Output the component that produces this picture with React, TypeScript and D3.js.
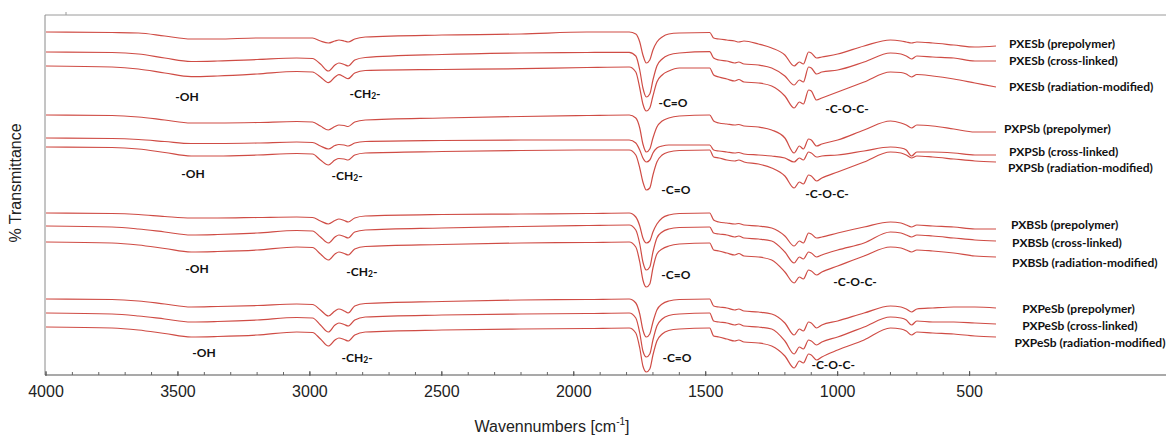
import React from "react";
import * as d3 from "d3";

// Sampling grid of the FTIR spectra (cm^-1, descending)
const WAVENUMBERS = [
  4000, 3750, 3650, 3550, 3450, 3350, 3200, 3050, 2990, 2960, 2930, 2905, 2890, 2870, 2855, 2830, 2790,
  2500, 2200, 1950, 1790, 1765, 1750, 1738, 1725, 1712, 1700, 1685, 1665, 1640, 1600, 1485, 1470, 1450,
  1420, 1390, 1375, 1355, 1300, 1250, 1200, 1165, 1145, 1130, 1110, 1100, 1080, 1060, 1000, 900, 800,
  760, 740, 720, 700, 640, 560, 480, 400,
];

// Absorption depth below each trace's stacking offset (a.u.)
const PXESB_PRE = [0, 0.5, 1, 4, 7, 7, 6, 6, 6, 9, 11, 9, 8, 9, 10, 7, 5, 3, 2, 0, 0, 2, 10, 23, 31, 28, 18, 10, 5, 2, 1, 0.5, 6, 7, 8, 9, 10, 9, 12, 16, 23, 34, 30, 32, 20, 21, 26, 25, 22, 14, 8, 9, 10, 11, 10, 11, 13, 15, 14];
const PXESB_CROSS = [0, 0.5, 2, 6, 9.5, 9, 7.5, 6, 6.5, 12, 19, 13, 11, 12.5, 14, 8, 5.5, 2.5, 1, 0.5, 0.3, 4, 18, 36, 45, 42, 28, 14, 7, 3, 1, -0.3, 6, 8, 9, 11, 10, 12, 13, 16, 24, 33, 28, 30, 15, 16, 22, 20, 18, 10, 1, 2, 4, 7, 4, 5, 6, 9, 9];
const PXESB_RAD = [0, 1, 3, 7, 10.7, 10, 8, 5.5, 6, 11, 16.7, 11, 8.7, 11, 12.7, 7, 4.5, 3.5, 2.7, 1.5, 1, 6, 22, 38, 45, 42, 30, 16, 9, 5, 2, 2, 9, 11, 13, 15, 13.5, 16, 17, 20, 30, 42, 36, 38, 24, 25, 34, 32, 26, 16, 6, 6.5, 8, 11, 8.5, 10, 13, 17, 21];

const PXPSB_PRE = [0, 0.5, 2, 5, 8, 8, 7.5, 6.5, 7, 11, 15, 11.5, 10, 10.5, 11.5, 7, 5, 3, 1.5, 0.5, 0, 3, 13, 29, 37, 34, 23, 12, 6, 3, 1, 0, 6, 8, 9, 10, 9.5, 11, 12, 15, 23, 38, 31, 34, 24, 25, 31, 29, 25, 15, 6, 8, 10, 13, 10, 11, 14, 17, 17];
const PXPSB_CROSS = [0, 0.5, 1.5, 3.5, 5.5, 5.5, 5, 4, 4.5, 8, 11, 7.5, 6.5, 7, 8, 5, 3.5, 2.5, 2, 2, 2, 5, 12, 20, 24, 22, 15, 10, 8, 7, 7, 7, 12, 13, 14, 15, 14.5, 16, 17, 18, 20, 24, 20, 22, 14, 15, 19, 18, 17, 13, 9, 10, 12, 18, 14, 14, 15, 17, 17];
const PXPSB_RAD = [0, 0.5, 2, 5.5, 9, 9, 8, 6.5, 7, 13, 18, 13, 11.5, 12, 13, 8, 6, 4.5, 3.5, 3, 3, 8, 21, 35, 43, 41, 28, 15, 8, 5, 3.5, 3, 10, 11, 13, 14, 13, 15, 17, 21, 29, 41, 35, 37, 28, 29, 34, 31, 25, 15, 5, 6, 8, 11, 9, 10, 12, 14, 15];

const PXBSB_PRE = [0, 0.5, 1.5, 3.5, 5, 5, 4.5, 4, 4.5, 8, 11, 7.5, 6, 7.5, 9, 5, 3, 1.5, 1, 0.5, 0, 4, 13, 25, 30, 28, 19, 11, 5, 2, 0.5, 0, 7, 9, 10, 11, 10.5, 12, 13, 15, 23, 33, 28, 30, 20, 21, 25, 24, 20, 14, 9, 10, 12, 14, 12, 13, 14, 16, 16];
const PXBSB_CROSS = [0, 1, 3, 6, 9, 8.5, 7, 4.5, 5, 11, 17, 11, 9, 10.5, 12, 6, 4, 2, 0.5, -0.5, -1, 4, 18, 36, 44, 41, 26, 12, 6, 3, 1.5, 1, 7, 8, 9, 11, 10, 12, 13, 15, 26, 37, 31, 33, 26, 27, 31, 29, 24, 17, 6, 7, 9, 11, 9, 10, 12, 14, 15];
const PXBSB_RAD = [0, 1, 3, 6.5, 10, 9.5, 8, 5, 5.5, 12, 18, 12, 10, 11.5, 13, 7, 4.5, 2.5, 1, 0.5, 0, 5, 20, 38, 45, 42, 26, 12, 7, 4, 2, 1, 8, 9, 11, 13, 11.5, 14, 15, 18, 30, 41, 35, 37, 28, 29, 33, 30, 24, 14, 5, 6, 8, 10, 8, 9, 11, 14, 15];

const PXPESB_PRE = [0, 0.5, 2, 5, 8, 7.5, 6.5, 5, 5.5, 11, 17, 12, 10, 12, 14, 7, 4.5, 2.5, 1, 0.5, 0, 4, 15, 31, 38, 35, 23, 11, 5, 2, 0.5, 0, 7, 8, 9, 11, 10, 12, 13, 15, 24, 36, 30, 32, 23, 24, 29, 26, 22, 14, 7, 8, 10, 13, 10, 9, 8, 8, 9];
const PXPESB_CROSS = [0, 1, 3, 6, 9, 8.5, 7, 4.5, 5, 12, 19, 12, 10, 11.5, 13, 7, 4, 2, 1, 0.5, 0, 5, 20, 38, 44, 41, 27, 13, 6, 2.5, 1, 0, 8, 9, 10, 12, 11, 13, 14, 16, 28, 41, 34, 36, 27, 28, 32, 29, 24, 14, 4, 5, 7, 12, 8, 9, 9, 10, 11];
const PXPESB_RAD = [0, 1, 3, 6.5, 10, 9.5, 8, 5, 5.5, 12, 19, 13, 11, 12.5, 14, 8, 5, 3, 2, 1.5, 1, 6, 21, 39, 45, 42, 28, 14, 7, 3.5, 2, 1, 9, 10, 12, 14, 13, 15, 16, 19, 29, 41, 34, 36, 27, 28, 33, 30, 23, 13, 1, 2, 4, 8, 5, 6, 7, 9, 10];

// Trace names, stacking offsets and label anchors (cm^-1, a.u.)
const SERIES_NAMES = [
  "PXESb (prepolymer)", "PXESb (cross-linked)", "PXESb (radiation-modified)",
  "PXPSb (prepolymer)", "PXPSb (cross-linked)", "PXPSb (radiation-modified)",
  "PXBSb (prepolymer)", "PXBSb (cross-linked)", "PXBSb (radiation-modified)",
  "PXPeSb (prepolymer)", "PXPeSb (cross-linked)", "PXPeSb (radiation-modified)",
];
const SERIES_DEPTHS = [
  PXESB_PRE, PXESB_CROSS, PXESB_RAD,
  PXPSB_PRE, PXPSB_CROSS, PXPSB_RAD,
  PXBSB_PRE, PXBSB_CROSS, PXBSB_RAD,
  PXPESB_PRE, PXPESB_CROSS, PXPESB_RAD,
];
const SERIES_OFFSETS = [343, 323, 309, 260, 237, 228, 162, 149, 133, 76, 62, 48];
const LABEL_WN = [351, 351, 351, 370, 351, 355, 343, 339, 339, 301, 301, 330];
const LABEL_T = [332, 315, 289, 247, 224, 208, 151, 133, 113, 67, 50, 33];

// Band assignments: one row per sample family
const BANDS = ["-OH", "-CH2-", "-C=O", "-C-O-C-"];
const BAND_WN = [
  [3466, 2791, 1624, 965],
  [3443, 2859, 1613, 1040],
  [3428, 2803, 1613, 934],
  [3401, 2821, 1609, 1017],
];
const BAND_T = [
  [279, 282, 273, 267],
  [202, 200, 186, 182],
  [107, 104, 101, 94],
  [23, 18, 18, 11],
];

const MAJOR_TICKS = [4000, 3500, 3000, 2500, 2000, 1500, 1000, 500];
const MINOR_TICKS = d3.range(4000, 399, -100);

const W = 1166;
const H = 437;
const LEFT = 45;
const TOP = 15;
const BOTTOM = 375;

const LINE_COLOR = "#cf4c45";
const LABEL_FONT = "Lato, 'Open Sans', sans-serif";
const AXIS_FONT = "'Liberation Sans', Arial, sans-serif";

function BandLabel({ text, x, y }: { text: string; x: number; y: number }) {
  if (text === "-CH2-") {
    return (
      <text x={x} y={y} textAnchor="middle" dominantBaseline="central"
        fontFamily={LABEL_FONT} fontWeight={700} fontSize={12} fill="#111">
        -CH<tspan fontSize={8.5} dy={2.5}>2</tspan><tspan dy={-2.5}>-</tspan>
      </text>
    );
  }
  return (
    <text x={x} y={y} textAnchor="middle" dominantBaseline="central"
      fontFamily={LABEL_FONT} fontWeight={700} fontSize={12} fill="#111">
      {text}
    </text>
  );
}

export default function App() {
  const x = d3.scaleLinear().domain([4000, 400]).range([46, 996]);
  const y = d3.scaleLinear().domain([0, 360]).range([BOTTOM, TOP]);

  const traces = SERIES_DEPTHS.map((depths, i) => {
    const line = d3
      .line<number>()
      .x((_, k) => x(WAVENUMBERS[k]))
      .y((d) => y(SERIES_OFFSETS[i] - d))
      .curve(d3.curveMonotoneX);
    return line(depths) as string;
  });

  return (
    <svg width={W} height={H} style={{ position: "absolute", left: 0, top: 0, background: "#fff" }}>
      <rect x={0} y={0} width={W} height={H} fill="#fff" />
      {/* frame */}
      <line x1={LEFT} x2={W} y1={TOP} y2={TOP} stroke="#9a9a9a" strokeWidth={1} />
      <line x1={66} x2={66} y1={TOP - 3} y2={TOP} stroke="#9a9a9a" strokeWidth={1} />
      <line x1={LEFT} x2={LEFT} y1={TOP} y2={BOTTOM} stroke="#8a8a8a" strokeWidth={1} />
      <line x1={LEFT} x2={W} y1={BOTTOM} y2={BOTTOM} stroke="#555" strokeWidth={1.2} />

      {/* x ticks */}
      {MINOR_TICKS.map((t) => (
        <line key={"m" + t} x1={x(t)} x2={x(t)} y1={BOTTOM} y2={BOTTOM - 3} stroke="#666" strokeWidth={1} />
      ))}
      {MAJOR_TICKS.map((t) => (
        <line key={"M" + t} x1={x(t)} x2={x(t)} y1={BOTTOM + 1} y2={BOTTOM - 4} stroke="#555" strokeWidth={1} />
      ))}
      {MAJOR_TICKS.map((t) => (
        <text key={"l" + t} x={x(t)} y={397} textAnchor="middle" fontFamily={AXIS_FONT} fontSize={16} fill="#222">
          {t}
        </text>
      ))}

      {/* axis titles */}
      <text x={552} y={432} textAnchor="middle" fontFamily={AXIS_FONT} fontSize={16} fill="#222">
        Wavennumbers [cm<tspan fontSize={10} dy={-7}>-1</tspan><tspan dy={7}>]</tspan>
      </text>
      <text transform="translate(21,183) rotate(-90)" textAnchor="middle" fontFamily={AXIS_FONT} fontSize={16} fill="#222">
        % Transmittance
      </text>

      {/* spectra */}
      {traces.map((d, i) => (
        <path key={SERIES_NAMES[i]} d={d} fill="none" stroke={LINE_COLOR} strokeWidth={1.2} strokeLinejoin="round" />
      ))}

      {/* trace labels */}
      {SERIES_NAMES.map((name, i) => (
        <text key={"n" + name} x={x(LABEL_WN[i])} y={y(LABEL_T[i])} dominantBaseline="central"
          fontFamily={LABEL_FONT} fontWeight={700} fontSize={12} fill="#111">
          {name}
        </text>
      ))}

      {/* band assignments */}
      {BAND_WN.map((row, g) =>
        row.map((wn, b) => (
          <BandLabel key={`b${g}-${b}`} text={BANDS[b]} x={x(wn)} y={y(BAND_T[g][b])} />
        ))
      )}
    </svg>
  );
}
